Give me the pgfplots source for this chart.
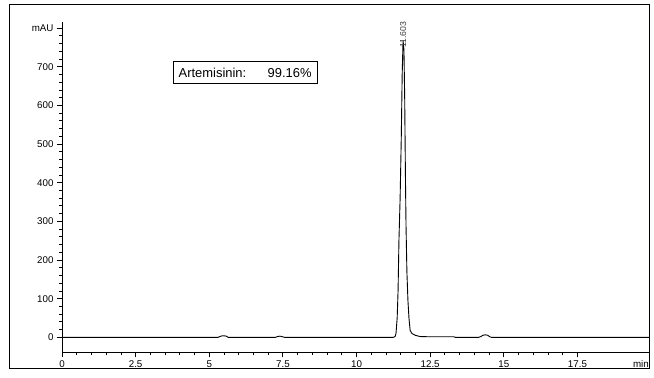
\documentclass[border=0pt]{standalone}
\usepackage{pgfplots}
\pgfplotsset{compat=1.18}
\usepackage{fontspec}
\setmainfont{Liberation Sans}
\begin{document}
\begin{tikzpicture}
\path[use as bounding box, fill=white] (-62bp,-25.7bp) rectangle (592bp,352.3bp);
\draw[line width=1bp] (-52bp,-15.7bp) rectangle (587bp,347.3bp);
\begin{axis}[name=ax, at={(0,0)}, anchor=south west,
 scale only axis, width=587bp, height=330.6bp,
 xmin=0, xmax=19.93, ymin=-38.8, ymax=816.6,
 axis x line=bottom, axis y line=left,
 axis line style={-, line width=0.9bp},
 xtick={0,2.5,5,7.5,10,12.5,15,17.5},
 xticklabels={0,2.5,5,7.5,10,12.5,15,17.5},
 minor x tick num=4,
 ytick={0,100,200,300,400,500,600,700,800},
 yticklabels={0,100,200,300,400,500,600,700,mAU},
 minor y tick num=4,
 tick align=outside, major tick length=5bp, minor tick length=2.5bp,
 tick style={black, line width=0.8bp},
 ticklabel style={font=\fontsize{9.8}{11}\selectfont},
 clip=false,
]
\addplot[black, line width=0.9bp] coordinates {
(0,0) (5.30,0) (5.36,2) (5.42,3.5) (5.50,4) (5.58,3) (5.64,0)
(7.25,0) (7.32,2) (7.40,3) (7.48,1.5) (7.55,0)
(11.25,0) (11.31,2) (11.34,10) (11.38,50) (11.41,120) (11.44,250) (11.48,360)
(11.52,520) (11.55,680) (11.58,768) (11.61,745) (11.635,620) (11.66,420)
(11.68,290) (11.71,170) (11.745,96) (11.78,50) (11.82,18) (11.88,10)
(12.0,5) (12.16,2) (12.4,1.5) (13.30,1.5) (13.35,0)
(14.15,0) (14.22,2) (14.30,5.5) (14.38,6.5) (14.46,5) (14.52,1.5) (14.58,0)
(19.93,0)
};
\node[rotate=90, anchor=west, inner sep=0pt, text=black!75,
 font=\fontsize{8.7}{10}\selectfont] at (axis cs:11.58,749) {11.603};
\end{axis}
\node[draw, line width=0.9bp, anchor=south west, minimum width=144bp,
 minimum height=22bp, inner sep=0pt, font=\fontsize{13}{15}\selectfont]
 at (110.7bp,268.3bp) {\makebox[133bp]{Artemisinin:\hfill 99.16\%}};
\node[anchor=north east, inner sep=0pt, font=\fontsize{9.8}{11}\selectfont]
 at (587bp,-8.2bp) {min};
\end{tikzpicture}
\end{document}
